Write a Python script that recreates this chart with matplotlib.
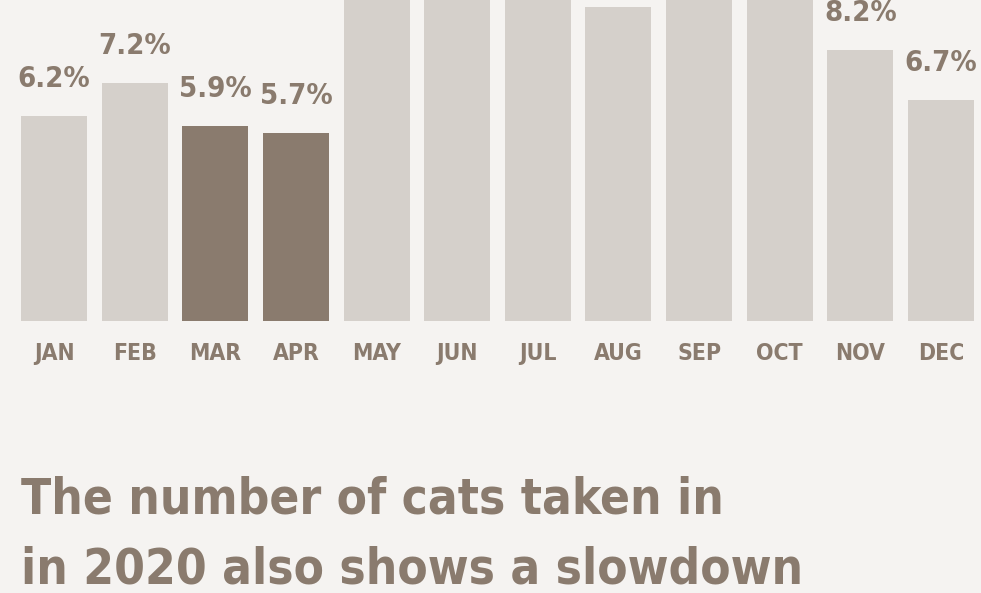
import matplotlib
matplotlib.use("Agg")
import matplotlib.pyplot as plt

months = ["JAN", "FEB", "MAR", "APR", "MAY", "JUN", "JUL", "AUG", "SEP", "OCT", "NOV", "DEC"]
values = [6.2, 7.2, 5.9, 5.7, 10.4, 10.9, 11.1, 9.5, 10.7, 11.4, 8.2, 6.7]
highlight = ["MAR", "APR"]
title = "The number of cats taken in\nin 2020 also shows a slowdown"

BG = "#f5f3f1"
LIGHT = "#d5d0cb"
DARK = "#8a7b6e"
TEXT = "#8a7b6e"
FONT = dict(family="DejaVu Sans", fontstretch="condensed", fontweight="bold")

W, H = 981, 593
PX_PER_UNIT = 33.0
fig = plt.figure(figsize=(W / 100, H / 100), dpi=100, facecolor=BG)
ax = fig.add_axes([21 / W, (H - 321) / H, (974 - 21) / W, 321 / H])
ax.set_facecolor(BG)

x = list(range(len(months)))
colors = [DARK if m in highlight else LIGHT for m in months]
ax.bar(x, values, width=0.82, color=colors)
ymax = 321 / PX_PER_UNIT
ax.set_xlim(-0.41, len(months) - 1 + 0.41)
ax.set_ylim(0, ymax)

# value labels (only those that stay inside the visible frame, like the cropped reference)
label_room = (23 + 24) / PX_PER_UNIT
for xi, v in zip(x, values):
    if v + label_room > ymax + 0.05:
        continue
    ax.annotate(f"{v:.1f}%", xy=(xi, v), xytext=(0, 23), textcoords="offset pixels",
                ha="center", va="bottom", color=TEXT, fontsize=21, **FONT)

ax.set_xticks(x)
ax.set_xticklabels(months, color=TEXT, fontsize=16.5, **FONT)
ax.tick_params(axis="x", length=0, pad=15)
ax.set_yticks([])
for s in ax.spines.values():
    s.set_visible(False)

fig.text(21 / W, 1 - 583 / H, title, ha="left", va="baseline", color=TEXT,
         fontsize=35.5, linespacing=1.56, **FONT)

fig.savefig("out.png", dpi=100, facecolor=BG)
